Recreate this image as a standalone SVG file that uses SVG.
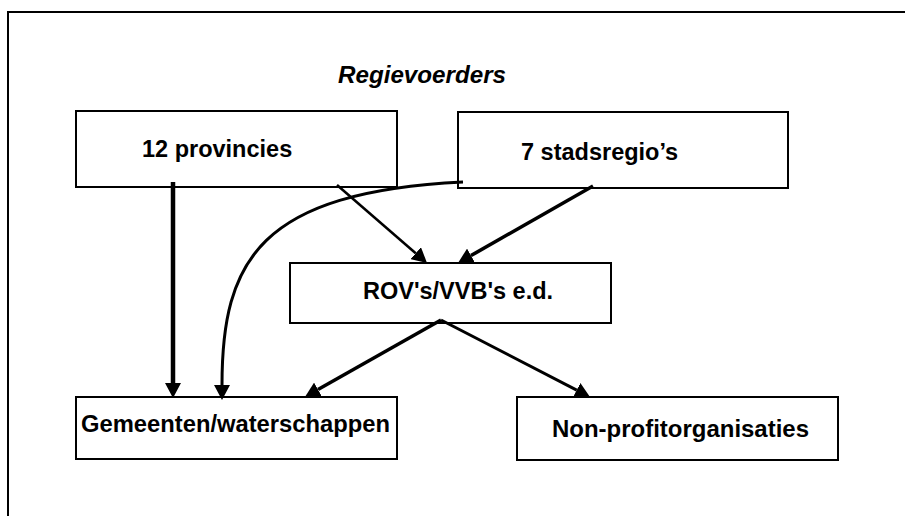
<svg xmlns="http://www.w3.org/2000/svg" width="905" height="516" viewBox="0 0 905 516">
  <style>
    .box { fill: #fff; stroke: #000; stroke-width: 2; }
    .lbl { font-family: "Liberation Sans", Arial, sans-serif; font-weight: bold; font-size: 23.5px; fill: #000; }
    .title { font-family: "Liberation Sans", Arial, sans-serif; font-weight: bold; font-style: italic; font-size: 23.5px; fill: #000; }
    .conn { fill: none; stroke: #000; marker-end: url(#ah); }
  </style>
  <defs>
    <marker id="ah" viewBox="0 0 15 16" refX="0" refY="8" markerWidth="15" markerHeight="16" markerUnits="userSpaceOnUse" orient="auto">
      <path d="M0,0 L15,8 L0,16 z" fill="#000"/>
    </marker>
  </defs>
  <rect width="905" height="516" fill="#fff"/>
  <path d="M8,516 V12 H905" fill="none" stroke="#000" stroke-width="2"/>
  <text class="title" x="338" y="83" textLength="168" lengthAdjust="spacingAndGlyphs">Regievoerders</text>

  <g id="provincies">
    <rect class="box" x="76" y="111" width="321" height="76"/>
    <text class="lbl" x="142" y="157">12 provincies</text>
  </g>
  <g id="stadsregios">
    <rect class="box" x="458" y="112" width="330" height="76"/>
    <text class="lbl" x="521" y="160">7 stadsregio’s</text>
  </g>
  <g id="rov">
    <rect class="box" x="290" y="263" width="321" height="60"/>
    <text class="lbl" x="363" y="299">ROV's/VVB's e.d.</text>
  </g>
  <g id="gemeenten">
    <rect class="box" x="76" y="397" width="321" height="62"/>
    <text class="lbl" x="81" y="432" textLength="309" lengthAdjust="spacingAndGlyphs">Gemeenten/waterschappen</text>
  </g>
  <g id="nonprofit">
    <rect class="box" x="517" y="397" width="321" height="63"/>
    <text class="lbl" x="552" y="437" textLength="257" lengthAdjust="spacingAndGlyphs">Non-profitorganisaties</text>
  </g>

  <g id="connectors">
    <path class="conn" stroke-width="4.5" d="M173,182 V383"/>
    <path class="conn" stroke-width="3" d="M463,182 C260,192 222,260 222,385"/>
    <path class="conn" stroke-width="2.5" d="M337,185 L415.7,253.2"/>
    <path class="conn" stroke-width="3.5" d="M593,186 L471,255.6"/>
    <path class="conn" stroke-width="3.5" d="M441,320 L318,389.6"/>
    <path class="conn" stroke-width="3" d="M441,320 L576.7,390.1"/>
  </g>
</svg>
